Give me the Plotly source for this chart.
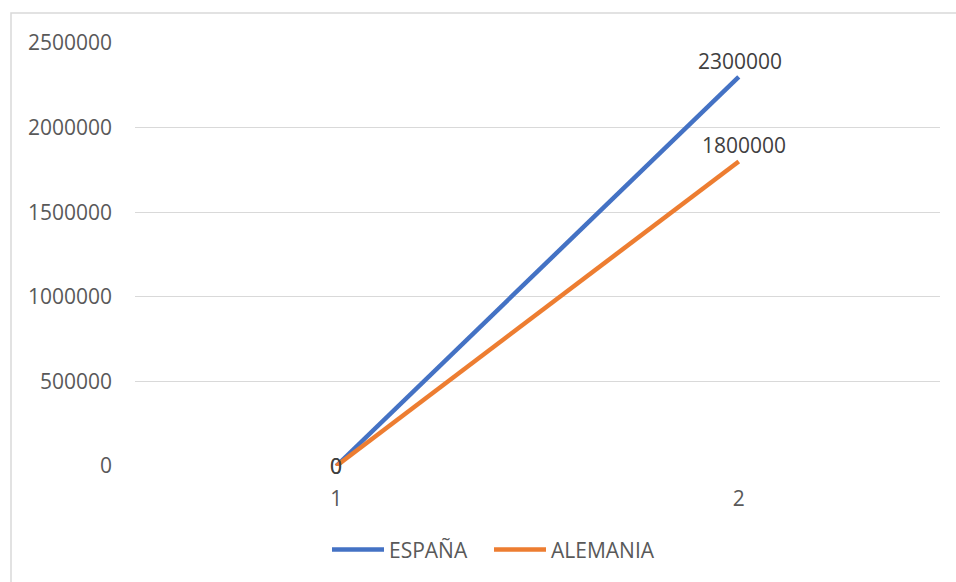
import plotly.graph_objects as go

categories = ["1", "2"]
espana = [0, 2300000]
alemania = [0, 1800000]
series_names = ["ESPAÑA", "ALEMANIA"]
colors = ["#4472C4", "#ED7D31"]
y_ticks = [0, 500000, 1000000, 1500000, 2000000, 2500000]

FONT = "Open Sans"
TXT = "#595959"
FS = 21

fig = go.Figure()
legend_ids = ["legend", "legend2"]
label_xshift = [1, 5]
for k, (name, vals, col, lg) in enumerate(zip(series_names, [espana, alemania], colors, legend_ids)):
    fig.add_trace(go.Scatter(
        x=categories, y=vals, name=name, mode="lines",
        line=dict(color=col, width=4.5),
        cliponaxis=False, legend=lg,
    ))
    for i, v in enumerate(vals):
        if i == 0:
            fig.add_annotation(x=i, y=v, text=str(v), showarrow=False,
                               xanchor="center", yanchor="middle",
                               font=dict(family=FONT, size=FS, color="#404040"))
        else:
            fig.add_annotation(x=i, y=v, text=str(v), showarrow=False,
                               xanchor="center", yanchor="bottom", yshift=0,
                               xshift=label_xshift[k],
                               font=dict(family=FONT, size=FS, color="#404040"))

leg_common = dict(orientation="h", y=-0.15, yanchor="top",
                  font=dict(size=FS, color=TXT), itemwidth=52,
                  bgcolor="rgba(0,0,0,0)")

fig.update_layout(
    width=956, height=582,
    margin=dict(l=135, r=16, t=43, b=116, autoexpand=False),
    paper_bgcolor="white", plot_bgcolor="white",
    font=dict(family=FONT, size=FS, color=TXT),
    xaxis=dict(type="category", range=[-0.5, 1.5], showgrid=False,
               zeroline=False, showline=False, ticks="",
               ticklabelstandoff=18, tickfont=dict(size=FS, color=TXT)),
    yaxis=dict(range=[0, 2500000], tickvals=y_ticks,
               ticktext=[str(v) for v in y_ticks],
               showgrid=True, gridcolor="#D9D9D9", gridwidth=1,
               zeroline=False, showline=False, ticks="",
               ticklabelstandoff=22, tickfont=dict(size=FS, color=TXT)),
    legend=dict(x=(331 - 135 - 4) / 805, xanchor="left", **leg_common),
    legend2=dict(x=(494 - 135 - 5) / 805, xanchor="left", **leg_common),
    showlegend=True,
)

fig.add_shape(type="rect", xref="paper", yref="paper",
              x0=(11 - 135) / 805, x1=1.2, y0=-0.6, y1=(466 - 13) / 423,
              line=dict(color="#D9D9D9", width=1.5), layer="below")

fig.write_html("out.html")
